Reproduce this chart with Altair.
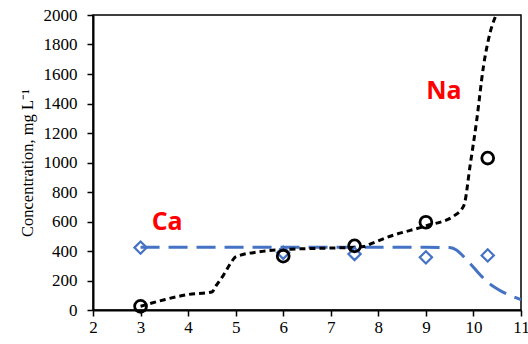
import altair as alt
import pandas as pd

# Measured concentrations (open symbols)
sample_x = [3, 6, 7.5, 9, 10.3]
na_measured = [25, 365, 435, 595, 1030]
ca_measured = [423, 388, 380, 357, 370]

# Model curves (dashed lines)
na_curve_x = [3.0, 3.5, 4.0, 4.5, 4.6, 4.75, 4.9, 5.0, 5.5, 6.0, 7.0, 7.5, 7.7, 7.85, 8.25,
              9.0, 9.6, 9.8, 9.93, 10.07, 10.21, 10.35, 10.5, 10.6]
na_curve_y = [25, 70, 105, 122, 170, 240, 320, 360, 395, 410, 420, 425, 430, 450, 500,
              570, 640, 710, 980, 1290, 1650, 1880, 2020, 2100]
ca_curve_x = [3.0, 5.0, 7.0, 9.0, 9.5, 9.65, 9.8, 10.0, 10.15, 10.35, 10.6, 10.8, 11.0]
ca_curve_y = [425, 425, 425, 425, 423, 405, 360, 290, 235, 175, 125, 95, 70]

# Element labels
label_text = ["Ca", "Na"]
label_x = [3.56, 9.38]
label_y = [600, 1483]

BLUE = "#4472C4"
SERIF = "Liberation Serif"

na_pts = pd.DataFrame({"x": sample_x, "y": na_measured})
ca_pts = pd.DataFrame({"x": sample_x, "y": ca_measured})
na_line = pd.DataFrame({"x": na_curve_x, "y": na_curve_y})
ca_line = pd.DataFrame({"x": ca_curve_x, "y": ca_curve_y})
labels = pd.DataFrame({"t": label_text, "x": label_x, "y": label_y})

xs = alt.Scale(domain=[2, 11], nice=False, zero=False)
ys = alt.Scale(domain=[0, 2000], nice=False)

x_enc = alt.X("x:Q", scale=xs, axis=alt.Axis(
    values=list(range(2, 12)), title=None, format="d", labelFlush=False,
    labelFont=SERIF))
y_enc = alt.Y("y:Q", scale=ys, axis=alt.Axis(
    values=list(range(0, 2001, 200)), title="Concentration, mg L\u207b\u00b9",
    format="d", labelFont=SERIF))

na_curve = alt.Chart(na_line).mark_line(
    color="black", strokeWidth=3, strokeDash=[6, 4], clip=True,
    interpolate="monotone").encode(x=x_enc, y=y_enc)
ca_curve = alt.Chart(ca_line).mark_line(
    color=BLUE, strokeWidth=3, strokeDash=[19, 9], clip=True,
    interpolate="monotone").encode(x=x_enc, y=y_enc)

na_marks = alt.Chart(na_pts).mark_point(
    shape="circle", size=140, filled=False, color="black", strokeWidth=2.8,
    opacity=1).encode(x=x_enc, y=y_enc)
ca_marks = alt.Chart(ca_pts).mark_point(
    shape="diamond", size=150, filled=False, color=BLUE, strokeWidth=2.2,
    opacity=1).encode(x=x_enc, y=y_enc)

text = alt.Chart(labels).mark_text(
    font="Open Sans", fontSize=25, fontWeight="bold", color="#FF0000"
).encode(x=x_enc, y=y_enc, text="t:N")

chart = alt.layer(ca_curve, na_curve, ca_marks, na_marks, text).properties(
    width=428, height=295,
    background="white",
    autosize=alt.AutoSizeParams(type="none"),
    padding={"left": 93, "top": 15, "right": 7, "bottom": 34},
).configure(
    font=SERIF,
).configure_view(
    stroke="black", strokeWidth=1.5
).configure_axis(
    grid=False, labelFont=SERIF, labelFontSize=17, labelColor="black",
    tickColor="black", tickSize=6, tickWidth=1.5,
    domainColor="black", domainWidth=2,
    titleFont=SERIF, titleFontSize=16.5, titleFontWeight="normal",
    titleColor="black",
).configure_axisX(labelPadding=3).configure_axisY(labelPadding=10, titlePadding=8)

chart.save("out.html", embed_options={"renderer": "svg", "actions": False})
